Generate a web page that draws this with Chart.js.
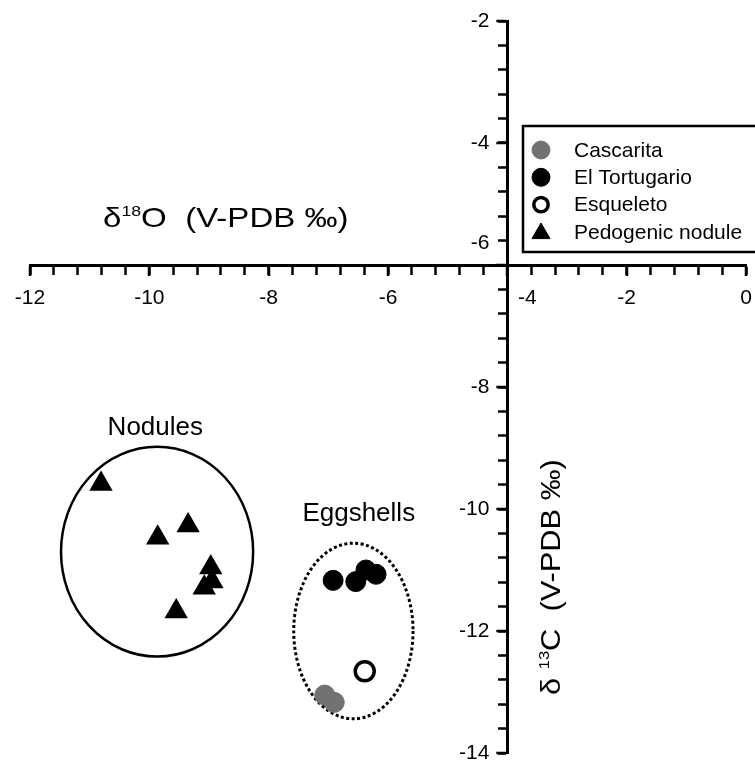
<!DOCTYPE html>
<html>
<head>
<meta charset="utf-8">
<script src="https://cdn.jsdelivr.net/npm/chart.js@4.4.1/dist/chart.umd.min.js"></script>
<style>
  body { margin: 0; background: #fff; }
  canvas { display: block; }
</style>
</head>
<body>
<canvas id="isoChart" width="755" height="767"></canvas>
<script>
// d18O (x) and d13C (y) per site
var seriesNames = ["Cascarita", "El Tortugario", "Esqueleto", "Pedogenic nodule"];
var cascaritaO = [-7.06, -6.90];
var cascaritaC = [-13.05, -13.17];
var tortugarioO = [-6.92, -6.54, -6.37, -6.20];
var tortugarioC = [-11.17, -11.19, -11.00, -11.07];
var esqueletoO = [-6.39];
var esqueletoC = [-12.66];
var noduleO = [-10.81, -9.35, -9.86, -8.97, -8.95, -9.08, -9.55];
var noduleC = [-9.59, -10.27, -10.47, -10.96, -11.19, -11.29, -11.68];

var xTickLabels = ["-12", "-10", "-8", "-6", "-4", "-2", "0"];
var yTickLabels = ["-14", "-12", "-10", "-8", "-6", "-4", "-2"];

// group outlines (centre and half size, data units)
var groupNames = ["Nodules", "Eggshells"];
var groupCentreO = [-9.87, -6.58];
var groupCentreC = [-10.70, -12.0];
var groupHalfO = [1.61, 1.0];
var groupHalfC = [1.72, 1.44];
var groupLabelO = [-9.90, -6.49];
var groupLabelC = [-8.67, -10.08];

var FONT = '"Liberation Sans", Arial, Helvetica, sans-serif';

function toPoints(xs, ys) {
  return xs.map(function (x, i) { return {x: x, y: ys[i]}; });
}

function drawMarker(ctx, style, x, y, r, fill, stroke, lw) {
  ctx.beginPath();
  if (style === 'triangle') {
    for (var k = 0; k < 3; k++) {
      var a = k * 2 * Math.PI / 3;
      var px = x + Math.sin(a) * r, py = y - Math.cos(a) * r;
      if (k === 0) ctx.moveTo(px, py); else ctx.lineTo(px, py);
    }
    ctx.closePath();
  } else {
    ctx.arc(x, y, r, 0, Math.PI * 2);
  }
  ctx.fillStyle = fill;
  ctx.fill();
  ctx.lineWidth = lw;
  ctx.strokeStyle = stroke;
  ctx.stroke();
}

function drawRich(ctx, parts) {
  var x = 0;
  parts.forEach(function (p) {
    ctx.font = p.size + 'px ' + FONT;
    ctx.fillText(p.text, x, -(p.rise || 0));
    x += ctx.measureText(p.text).width;
  });
}

var outlinePlugin = {
  id: 'groupOutlines',
  beforeDatasetsDraw: function (chart) {
    var ctx = chart.ctx, xs = chart.scales.x, ys = chart.scales.y;
    ctx.save();
    ctx.strokeStyle = '#000';
    for (var i = 0; i < groupNames.length; i++) {
      var cx = xs.getPixelForValue(groupCentreO[i]);
      var cy = ys.getPixelForValue(groupCentreC[i]);
      var rx = Math.abs(xs.getPixelForValue(groupCentreO[i] + groupHalfO[i]) - cx);
      var ry = Math.abs(ys.getPixelForValue(groupCentreC[i] + groupHalfC[i]) - cy);
      ctx.lineWidth = i === 0 ? 2.5 : 3;
      ctx.setLineDash(i === 0 ? [] : [3, 2.5]);
      ctx.beginPath();
      ctx.ellipse(cx, cy, rx, ry, 0, 0, Math.PI * 2);
      ctx.stroke();
      ctx.setLineDash([]);
      ctx.fillStyle = '#000';
      ctx.font = '26px ' + FONT;
      ctx.textAlign = 'center';
      ctx.textBaseline = 'middle';
      ctx.fillText(groupNames[i], xs.getPixelForValue(groupLabelO[i]), ys.getPixelForValue(groupLabelC[i]));
    }
    ctx.restore();
  }
};

var axisTextPlugin = {
  id: 'axisText',
  afterDraw: function (chart) {
    var ctx = chart.ctx, xs = chart.scales.x, ys = chart.scales.y;
    var y0 = ys.getPixelForValue(-6), x0 = xs.getPixelForValue(-4);
    ctx.save();
    ctx.fillStyle = '#000';
    ctx.strokeStyle = '#000';
    ctx.lineWidth = 2.5;
    ctx.font = '21px ' + FONT;

    // longer marks at the labelled ticks
    ctx.beginPath();
    xTickLabels.forEach(function (lab) {
      var px = Math.round(xs.getPixelForValue(Number(lab)));
      ctx.moveTo(px, y0 + 1); ctx.lineTo(px, y0 + 11);
    });
    yTickLabels.forEach(function (lab) {
      var py = Math.round(ys.getPixelForValue(Number(lab)));
      ctx.moveTo(x0 - 1, py); ctx.lineTo(x0 - 11, py);
    });
    ctx.stroke();

    // tick labels; the two at the crossing are pushed off the axes
    ctx.textAlign = 'right';
    ctx.textBaseline = 'middle';
    yTickLabels.forEach(function (lab) {
      var py = ys.getPixelForValue(Number(lab));
      if (lab === '-6') py -= 22;
      ctx.fillText(lab, x0 - 18, py);
    });
    ctx.textAlign = 'center';
    xTickLabels.forEach(function (lab) {
      var px = xs.getPixelForValue(Number(lab));
      if (lab === '-4') px += 20;
      ctx.fillText(lab, px, y0 + 33);
    });

    // axis titles
    ctx.textAlign = 'left';
    ctx.textBaseline = 'alphabetic';
    ctx.save();
    ctx.translate(103, 227);
    ctx.scale(1.18, 1);
    drawRich(ctx, [{text: 'δ', size: 28}, {text: '18', size: 15, rise: 11}, {text: 'O  (V-PDB ‰)', size: 28}]);
    ctx.restore();
    ctx.save();
    ctx.translate(560, 695);
    ctx.rotate(-Math.PI / 2);
    ctx.scale(1.1, 1);
    drawRich(ctx, [{text: 'δ ', size: 28}, {text: '13', size: 15, rise: 11}, {text: 'C  (V-PDB ‰)', size: 28}]);
    ctx.restore();

    // legend box
    var left = 523, top = 126, rowH = 27.3, firstRow = 150;
    ctx.lineWidth = 2.5;
    ctx.strokeRect(left, top, 260, 126);
    chart.data.datasets.forEach(function (ds, i) {
      var ry = firstRow + i * rowH;
      var open = ds.backgroundColor === '#ffffff';
      var r = ds.pointStyle === 'triangle' ? 10.4 : (open ? 7.2 : 9);
      drawMarker(ctx, ds.pointStyle, 541, ry + (ds.pointStyle === 'triangle' ? 1.5 : 0), r,
        ds.backgroundColor, ds.borderColor, open ? 3.5 : 1);
      ctx.fillStyle = '#000';
      ctx.font = '21px ' + FONT;
      ctx.textAlign = 'left';
      ctx.textBaseline = 'middle';
      ctx.fillText(ds.label, 574, ry + 1);
    });
    ctx.restore();
  }
};

var ctx = document.getElementById('isoChart');
var isoChart = new Chart(ctx, {
  type: 'scatter',
  data: {
    datasets: [{
      label: seriesNames[0],
      data: toPoints(cascaritaO, cascaritaC),
      pointStyle: 'circle',
      pointRadius: 10,
      backgroundColor: '#727272',
      borderColor: '#727272',
      borderWidth: 1
    }, {
      label: seriesNames[1],
      data: toPoints(tortugarioO, tortugarioC),
      pointStyle: 'circle',
      pointRadius: 10,
      backgroundColor: '#000000',
      borderColor: '#000000',
      borderWidth: 1
    }, {
      label: seriesNames[2],
      data: toPoints(esqueletoO, esqueletoC),
      pointStyle: 'circle',
      pointRadius: 9.5,
      backgroundColor: '#ffffff',
      borderColor: '#000000',
      borderWidth: 3.5
    }, {
      label: seriesNames[3],
      data: toPoints(noduleO, noduleC),
      pointStyle: 'triangle',
      pointRadius: 12,
      backgroundColor: '#000000',
      borderColor: '#000000',
      borderWidth: 1.5
    }]
  },
  options: {
    responsive: false,
    animation: false,
    layout: { autoPadding: false, padding: { left: 30, right: 9, top: 21, bottom: 14 } },
    plugins: {
      legend: { display: false },
      tooltip: { enabled: false }
    },
    scales: {
      x: {
        type: 'linear',
        min: -12,
        max: 0,
        position: { y: -6 },
        border: { display: true, color: '#000', width: 3 },
        grid: { drawOnChartArea: false, drawTicks: true, tickLength: 8, tickWidth: 2.5, tickColor: '#000' },
        ticks: { stepSize: 0.4, autoSkip: false, display: false }
      },
      y: {
        type: 'linear',
        min: -14,
        max: -2,
        position: { x: -4 },
        border: { display: true, color: '#000', width: 3 },
        grid: { drawOnChartArea: false, drawTicks: true, tickLength: 8, tickWidth: 2.5, tickColor: '#000' },
        ticks: { stepSize: 0.4, autoSkip: false, display: false }
      }
    }
  },
  plugins: [outlinePlugin, axisTextPlugin]
});
</script>
</body>
</html>
